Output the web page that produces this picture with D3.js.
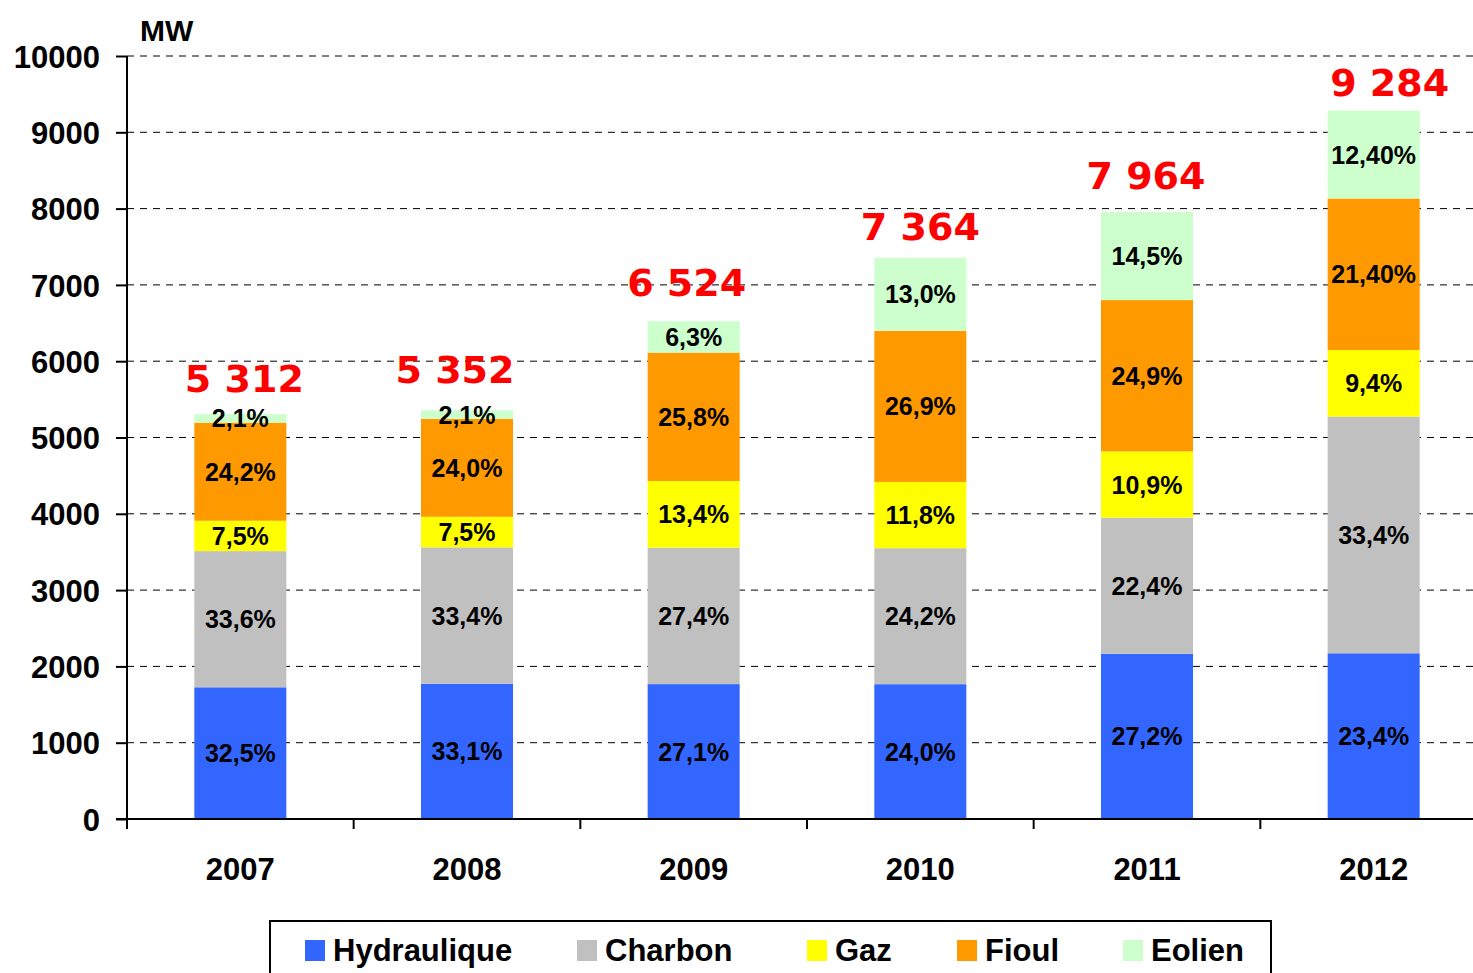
<!DOCTYPE html>
<html>
<head>
<meta charset="utf-8">
<script src="https://cdn.jsdelivr.net/npm/d3@7"></script>
<style>
  html, body { margin: 0; padding: 0; background: #fff; }
  svg { display: block; }
  text { font-family: "Liberation Sans", Arial, sans-serif; font-weight: bold; }
</style>
</head>
<body>
<svg id="chart" width="1473" height="973"></svg>
<script>
// ---- data ----
const years = ["2007", "2008", "2009", "2010", "2011", "2012"];
const totals = [5312, 5352, 6524, 7364, 7964, 9284];
const totalLabels = ["5 312", "5 352", "6 524", "7 364", "7 964", "9 284"];

const seriesNames = ["Hydraulique", "Charbon", "Gaz", "Fioul", "Eolien"];
const hydraulique = [1726, 1772, 1768, 1767, 2166, 2172];
const charbon     = [1785, 1788, 1788, 1782, 1784, 3101];
const gaz         = [398, 401, 874, 869, 868, 873];
const fioul       = [1286, 1284, 1683, 1981, 1983, 1987];
const eolien      = [112, 112, 411, 957, 1155, 1151];

const hydrauliquePct = ["32,5%", "33,1%", "27,1%", "24,0%", "27,2%", "23,4%"];
const charbonPct     = ["33,6%", "33,4%", "27,4%", "24,2%", "22,4%", "33,4%"];
const gazPct         = ["7,5%", "7,5%", "13,4%", "11,8%", "10,9%", "9,4%"];
const fioulPct       = ["24,2%", "24,0%", "25,8%", "26,9%", "24,9%", "21,40%"];
const eolienPct      = ["2,1%", "2,1%", "6,3%", "13,0%", "14,5%", "12,40%"];

const yTicks = [0, 1000, 2000, 3000, 4000, 5000, 6000, 7000, 8000, 9000, 10000];
const yUnit = "MW";

// ---- layout / style ----
const colors = ["#3366FF", "#C0C0C0", "#FFFF00", "#FF9900", "#CCFFCC"];
const totalDx = [4, -12, -7, 0, -1, 16];      // manual label nudges (px)
const totalGap = [22, 28, 25, 17, 22, 15];    // baseline above bar top (px)
const legendX = [305, 577, 807, 957, 1123];   // legend swatch positions (px)

const seriesValues = [hydraulique, charbon, gaz, fioul, eolien];
const seriesPct = [hydrauliquePct, charbonPct, gazPct, fioulPct, eolienPct];

const svg = d3.select("#chart");

const x = d3.scaleBand().domain(years).range([127, 1487]).paddingInner(0.594).paddingOuter(0.297);
const y = d3.scaleLinear().domain([0, 10000]).range([819, 56]);

// build stacked table
const table = years.map((yr, i) => {
  const row = { year: yr };
  seriesNames.forEach((s, k) => row[s] = seriesValues[k][i]);
  return row;
});
const stacked = d3.stack().keys(seriesNames)(table);

// gridlines
svg.append("g").selectAll("line").data(yTicks.filter(d => d > 0)).join("line")
  .attr("x1", 127).attr("x2", 1473)
  .attr("y1", d => y(d)).attr("y2", d => y(d))
  .attr("stroke", "#000").attr("stroke-width", 1)
  .attr("stroke-dasharray", "7,6");

// bars
const layers = svg.append("g").selectAll("g").data(stacked).join("g")
  .attr("fill", (d, k) => colors[k]);
layers.selectAll("rect").data(d => d).join("rect")
  .attr("x", d => x(d.data.year))
  .attr("width", x.bandwidth())
  .attr("y", d => y(d[1]))
  .attr("height", d => y(d[0]) - y(d[1]));

// segment labels
stacked.forEach((layer, k) => {
  svg.append("g").selectAll("text").data(layer).join("text")
    .attr("x", d => x(d.data.year) + x.bandwidth() / 2)
    .attr("y", d => (y(d[0]) + y(d[1])) / 2 + 9)
    .attr("text-anchor", "middle")
    .attr("font-size", 25)
    .attr("fill", "#000")
    .text((d, i) => seriesPct[k][i]);
});

// total labels
svg.append("g").selectAll("text").data(years).join("text")
  .attr("x", (d, i) => x(d) + x.bandwidth() / 2 + totalDx[i])
  .attr("y", (d, i) => y(totals[i]) - totalGap[i])
  .attr("text-anchor", "middle")
  .attr("font-size", 38)
  .style("font-family", "'DejaVu Sans', sans-serif")
  .attr("fill", "#FF0000")
  .text((d, i) => totalLabels[i]);

// y axis
const yAxis = svg.append("g").attr("transform", "translate(127,0)")
  .call(d3.axisLeft(y).tickValues(yTicks).tickSize(11).tickPadding(16).tickFormat(d3.format("d")));
yAxis.select(".domain").attr("stroke", "#000").attr("stroke-width", 2).attr("d", "M0,56V819");
yAxis.selectAll(".tick line").attr("stroke", "#000").attr("stroke-width", 2);
yAxis.selectAll(".tick text").attr("font-size", 31).attr("fill", "#000")
  .style("font-family", "'Liberation Sans', Arial, sans-serif").style("font-weight", "bold")
  .attr("dy", "0.36em");

// x axis
const xAxis = svg.append("g").attr("transform", "translate(0,819)")
  .call(d3.axisBottom(x).tickSize(0).tickPadding(61));
xAxis.select(".domain").attr("stroke", "#000").attr("stroke-width", 2).attr("d", "M116,0H1473");
xAxis.selectAll(".tick text").attr("font-size", 31).attr("fill", "#000")
  .style("font-family", "'Liberation Sans', Arial, sans-serif").style("font-weight", "bold")
  .attr("dy", "0");
// tick marks at band boundaries
const boundaries = years.map(d => x(d) - x.step() * x.paddingInner() / 2);
xAxis.append("g").selectAll("line").data(boundaries).join("line")
  .attr("x1", d => d).attr("x2", d => d)
  .attr("y1", 0).attr("y2", 10)
  .attr("stroke", "#000").attr("stroke-width", 2);

// unit label
svg.append("text").attr("x", 140).attr("y", 41).attr("font-size", 30).attr("fill", "#000").text(yUnit);

// legend
const legend = svg.append("g");
legend.append("rect").attr("x", 270).attr("y", 921).attr("width", 1001).attr("height", 80)
  .attr("fill", "none").attr("stroke", "#000").attr("stroke-width", 2);
seriesNames.forEach((name, k) => {
  legend.append("rect").attr("x", legendX[k]).attr("y", 940).attr("width", 20).attr("height", 21).attr("fill", colors[k]);
  legend.append("text").attr("x", legendX[k] + 28).attr("y", 961).attr("font-size", 31).attr("fill", "#000").text(name);
});
</script>
</body>
</html>
